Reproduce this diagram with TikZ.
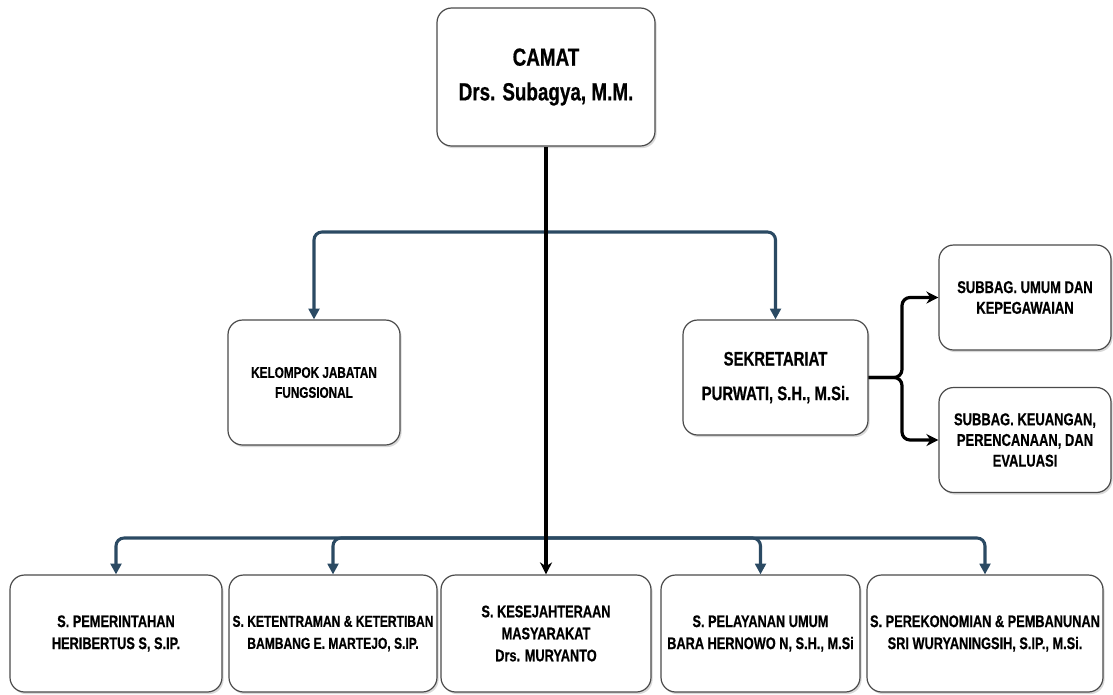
\documentclass[tikz,border=0pt]{standalone}
\usepackage{fontspec}
\setmainfont{Liberation Sans}[FakeStretch=0.76,BoldFeatures={FakeBold=0.6}]
\usetikzlibrary{arrows.meta,shadows}
\definecolor{conn}{HTML}{2B4A63}
\definecolor{edgegrey}{HTML}{4A4A4A}
\begin{document}
\begin{tikzpicture}[x=0.75pt,y=-0.75pt,
  box/.style={draw=edgegrey,line width=0.9pt,fill=white,rounded corners=11pt,align=center,inner sep=0pt,
    drop shadow={shadow xshift=1.2pt,shadow yshift=-1.6pt,opacity=0.3}},
  sz/.style 2 args={minimum width=#1*0.75pt,minimum height=#2*0.75pt},
  fcamat/.style={font=\fontsize{18.6}{26}\selectfont\bfseries},
  fsek/.style={font=\fontsize{14.7}{26}\selectfont\bfseries},
  fkel/.style={font=\fontsize{11.6}{15}\selectfont\bfseries},
  fsub/.style={font=\fontsize{12.8}{15.5}\selectfont\bfseries},
  fbot/.style={font=\fontsize{12.6}{16.5}\selectfont\bfseries},
  fbotn/.style={font=\fontsize{11.9}{16.5}\selectfont\bfseries},
  bl/.style={draw=conn,line width=2.3pt,rounded corners=6pt,-{Triangle[width=8pt,length=8pt]}},
  bk/.style={draw=black,line width=2.4pt,rounded corners=6pt,-{Stealth[width=9pt,length=9pt]}}]
\useasboundingbox (0,0) rectangle (1113,694);

% nodes
\node[box,sz={218}{138},fcamat] (camat) at (546,77) {CAMAT\\Drs. Subagya, M.M.};
\node[box,sz={172}{125},fkel] (kel) at (314,382.5) {KELOMPOK JABATAN\\FUNGSIONAL};
\node[box,sz={185}{115},fsek] (sek) at (775.5,377.5) {SEKRETARIAT\\PURWATI, S.H., M.Si.};
\node[box,sz={172}{105},fsub] (sub1) at (1025,297.5) {SUBBAG. UMUM DAN\\KEPEGAWAIAN};
\node[box,sz={172}{105},fsub] (sub2) at (1025,440) {SUBBAG. KEUANGAN,\\PERENCANAAN, DAN\\EVALUASI};
\node[box,sz={212}{117},fbot] (b1) at (116,633.5) {S. PEMERINTAHAN\\HERIBERTUS S, S.IP.};
\node[box,sz={208}{117},fbotn] (b2) at (333,633.5) {S. KETENTRAMAN \& KETERTIBAN\\BAMBANG E. MARTEJO, S.IP.};
\node[box,sz={210}{117},fbot] (b3) at (546,633.5) {S. KESEJAHTERAAN\\MASYARAKAT\\Drs. MURYANTO};
\node[box,sz={199}{117},fbot] (b4) at (760.5,633.5) {S. PELAYANAN UMUM\\BARA HERNOWO N, S.H., M.Si};
\node[box,sz={236}{117},fbot] (b5) at (985,633.5) {S. PEREKONOMIAN \& PEMBANUNAN\\SRI WURYANINGSIH, S.IP., M.Si.};

% junctions
\coordinate (j1) at (546,232);
\coordinate (j2) at (546,538);
\coordinate (j3) at (902,377.5);

% blue connectors
\draw[bl] (j1) -| (kel.north);
\draw[bl] (j1) -| (sek.north);
\draw[bl] (j2) -| (b1.north);
\draw[bl] (j2) -| (b2.north);
\draw[bl] (j2) -| (b4.north);
\draw[bl] (j2) -| (b5.north);

% black connectors
\draw[bk] (camat.south) -- (b3.north);
\draw[bk] (sek.east) -- (j3) |- (sub1.west);
\draw[bk] (sek.east) -- (j3) |- (sub2.west);
\end{tikzpicture}
\end{document}
